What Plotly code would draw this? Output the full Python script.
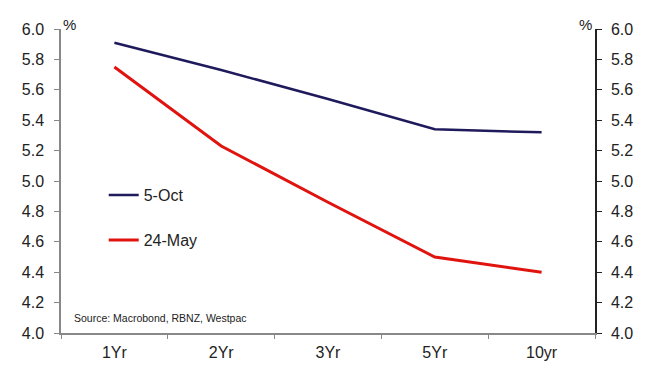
import plotly.graph_objects as go

categories = ["1Yr", "2Yr", "3Yr", "5Yr", "10yr"]
oct5 = [5.91, 5.73, 5.54, 5.34, 5.32]
may24 = [5.75, 5.23, 4.86, 4.50, 4.40]
yticks = [4.0, 4.2, 4.4, 4.6, 4.8, 5.0, 5.2, 5.4, 5.6, 5.8, 6.0]

fig = go.Figure()
fig.add_trace(go.Scatter(x=categories, y=oct5, mode="lines", name="5-Oct",
                         line=dict(color="#1f1a5c", width=2.5), legend="legend"))
fig.add_trace(go.Scatter(x=categories, y=may24, mode="lines", name="24-May",
                         line=dict(color="#e0130f", width=3), legend="legend2"))
# invisible trace for right axis
fig.add_trace(go.Scatter(x=categories, y=oct5, yaxis="y2", mode="lines",
                         line=dict(width=0), showlegend=False, hoverinfo="skip", opacity=0))

font = "Liberation Sans, Arial, sans-serif"
legend_style = dict(xanchor="left", yanchor="middle", bgcolor="rgba(0,0,0,0)",
                    font=dict(size=16, color="#222222"), itemwidth=30,
                    borderwidth=0)
fig.update_layout(
    width=648, height=367,
    margin=dict(l=61, r=53, t=29, b=34, autoexpand=False),
    plot_bgcolor="white", paper_bgcolor="white",
    font=dict(family=font, size=16, color="#222222"),
    showlegend=True,
    legend=dict(x=0.08, y=(333 - 195) / 304, **legend_style),
    legend2=dict(x=0.08, y=(333 - 240) / 304, **legend_style),
    xaxis=dict(type="category", showgrid=False, showline=True, linecolor="#888888",
               linewidth=1.5, ticks="outside", tickson="boundaries", ticklen=4,
               tickcolor="#888888", tickfont=dict(size=16), range=[-0.5, 4.5],
               ticklabelstandoff=4, automargin=False),
    yaxis=dict(range=[4.0, 6.0], tickvals=yticks, tickformat=".1f", showgrid=False,
               showline=True, linecolor="#888888", linewidth=1.5, ticks="outside",
               ticklen=5, tickcolor="#888888", zeroline=False, tickfont=dict(size=16),
               ticklabelstandoff=7, automargin=False),
    yaxis2=dict(range=[4.0, 6.0], tickvals=yticks, tickformat=".1f", overlaying="y",
                side="right", showgrid=False, showline=True, linecolor="#222222",
                linewidth=1.5, ticks="outside", ticklen=5, tickcolor="#222222",
                zeroline=False, tickfont=dict(size=16), ticklabelstandoff=6,
                automargin=False),
    annotations=[
        dict(text="%", xref="paper", yref="paper", x=0.0, y=1.0, xanchor="left",
             yanchor="bottom", xshift=0, yshift=-6, showarrow=False, font=dict(size=15)),
        dict(text="%", xref="paper", yref="paper", x=1.0, y=1.0, xanchor="right",
             yanchor="bottom", xshift=-1, yshift=-6, showarrow=False, font=dict(size=15)),
        dict(text="Source: Macrobond, RBNZ, Westpac", xref="paper", yref="paper",
             x=0.02, y=(333 - 318) / 304, xanchor="left", yanchor="middle", showarrow=False,
             font=dict(size=10.5, color="#222222")),
    ],
)
fig.write_html("out.html")
